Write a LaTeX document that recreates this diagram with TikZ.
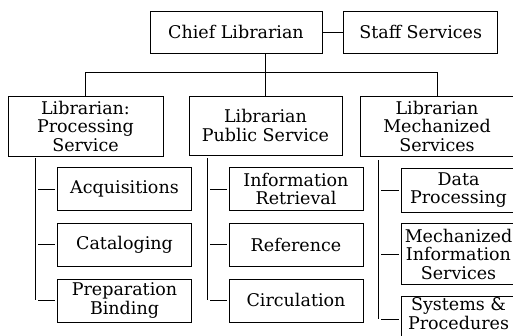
\documentclass[tikz,border=0pt]{standalone}
\usepackage{fontspec}
\setmainfont{DejaVu Serif}
\usetikzlibrary{positioning}

\begin{document}
\begin{tikzpicture}[x=1pt, y=-1pt, line width=0.7pt,
	style={align=center, inner sep=0pt, font=\fontsize{17.5}{18.5}\selectfont},
	box/.style={draw, minimum height=42pt},
	sub/.style={draw, minimum width=134pt, minimum height=43pt}]

		\useasboundingbox (0,0) rectangle (513,335);
		\clip (0,0) rectangle (513,335);

		\node[box, minimum width=172pt] (CL) at (236,32) {Chief Librarian};
		\node[box, minimum width=154pt, right=21pt of CL] (SS) {Staff Services};
		\node[draw, minimum width=155pt, minimum height=60pt] (PS) at (85.5,126) {Librarian:\\Processing\\Service};
		\node[draw, minimum width=153pt, minimum height=59pt] (PUB) at (265.5,125.5) {Librarian\\Public Service};
		\node[draw, minimum width=154pt, minimum height=60pt] (MS) at (437,126) {Librarian\\Mechanized\\Services};

		\node[sub] (ACQ) at (124.5,189) {Acquisitions};
		\node[sub, below=12pt of ACQ] (CAT) {Cataloging};
		\node[sub, below=12pt of CAT] (PB) {Preparation\\Binding};

		\node[sub] (IR) at (296,189) {Information\\Retrieval};
		\node[sub, below=12pt of IR] (REF) {Reference};
		\node[sub, below=12pt of REF] (CIRC) {Circulation};

		\node[draw, minimum width=115pt, minimum height=44pt] (DP) at (458.5,190) {Data\\Processing};
		\node[draw, minimum width=115pt, minimum height=61pt, below=11pt of DP] (MIS) {Mechanized\\Information\\Services};
		\node[draw, minimum width=115pt, minimum height=45pt, text depth=11pt, below=11pt of MIS] (SP) {Systems \&\\Procedures};

		\coordinate (bus) at (0,72);
		\coordinate (PSsp) at (35,158);
		\coordinate (PUBsp) at (207,158);
		\coordinate (MSsp) at (378,160);

		\draw (CL) -- (SS);
		\draw (PUB.north) -- (CL.south -| PUB.north);
		\draw (PS.north) -- (PS.north |- bus) -- (MS.north |- bus) -- (MS.north);

		\draw (PSsp) -- (PSsp |- PB.west);
		\draw (PUBsp) -- (PUBsp |- CIRC.west);
		\draw (MSsp) -- (MSsp |- SP.west);
		\foreach \n in {ACQ, CAT, PB}
			\draw[shorten <=3pt, shorten >=2pt] (PSsp |- \n.west) -- (\n.west);
		\foreach \n in {IR, REF, CIRC}
			\draw[shorten <=3pt, shorten >=2pt] (PUBsp |- \n.west) -- (\n.west);
		\foreach \n in {DP, MIS, SP}
			\draw[shorten <=3pt, shorten >=2pt] (MSsp |- \n.west) -- (\n.west);
		\end{tikzpicture}
\end{document}
